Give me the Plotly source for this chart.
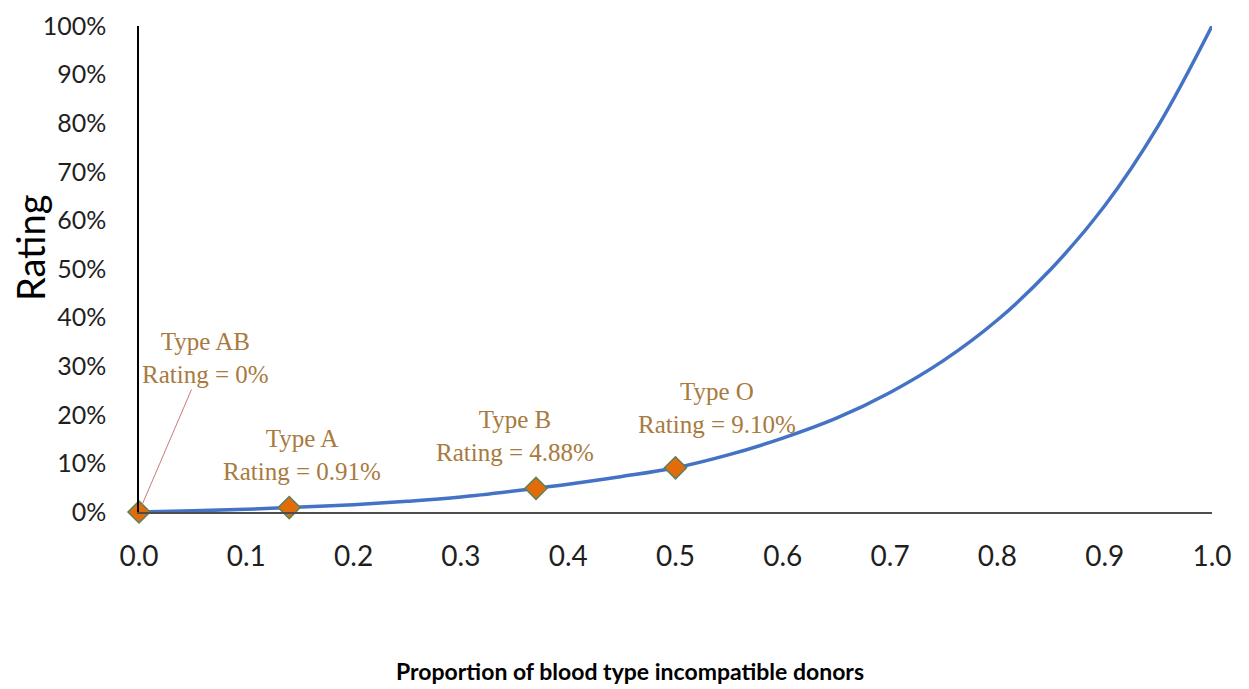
import plotly.graph_objects as go

# curve (x = proportion, y = rating in %)
curve_x = [0, 0.05, 0.1, 0.14, 0.2, 0.25, 0.3, 0.37, 0.4, 0.45, 0.5,
           0.55, 0.6, 0.65, 0.7, 0.75, 0.8, 0.85, 0.9, 0.95, 1.0]
curve_y = [0, 0.25, 0.55, 0.91, 1.5, 2.2, 3.1, 4.88, 5.7, 7.3, 9.1,
           11.8, 15.2, 19.3, 24.6, 31.2, 39.5, 50, 63, 79.5, 100]

# blood types
types = ["Type AB", "Type A", "Type B", "Type O"]
type_x = [0, 0.14, 0.37, 0.5]
type_y = [0, 0.91, 4.88, 9.10]
type_labels = ["0%", "0.91%", "4.88%", "9.10%"]

y_ticks = list(range(0, 101, 10))
y_ticktext = [f"{v}%" for v in y_ticks]
x_ticks = [i / 10 for i in range(11)]

fig = go.Figure()

fig.add_trace(go.Scatter(
    x=curve_x, y=curve_y,
    mode="lines",
    line=dict(color="#4472C4", width=3.5, shape="spline", smoothing=1.0),
    showlegend=False,
))

fig.add_trace(go.Scatter(
    x=type_x, y=type_y,
    mode="markers",
    marker=dict(symbol="diamond", size=17, color="#E36C0A",
                line=dict(color="#5B8060", width=1.5)),
    cliponaxis=False,
    showlegend=False,
))

label_font = dict(family="Liberation Serif", size=25, color="#A87A3E")

# text positions for the labels (offset from the markers)
label_pos = {
    "Type A": (0.152, 11.8),
    "Type B": (0.350, 15.7),
    "Type O": (0.539, 21.4),
}

annotations = []
for t, xv, yv, lab in zip(types, type_x, type_y, type_labels):
    text = f"{t}<br>Rating = {lab}"
    if t == "Type AB":
        annotations.append(dict(
            x=xv, y=yv, xref="x", yref="y",
            text=text, showarrow=True, arrowhead=0,
            arrowcolor="#C97A7C", arrowwidth=1, standoff=8,
            ax=66, ay=-154, font=label_font,
        ))
    else:
        px_, py_ = label_pos[t]
        annotations.append(dict(
            x=px_, y=py_, xref="x", yref="y",
            text=text, showarrow=False, font=label_font,
        ))

annotations.append(dict(
    x=-0.1016, y=0.545, xref="paper", yref="paper",
    xanchor="center", yanchor="middle",
    text="Rating", textangle=-90, showarrow=False,
    font=dict(family="Lato", size=38, color="black"),
))
annotations.append(dict(
    x=0.4576, y=-0.3265, xref="paper", yref="paper",
    xanchor="center", yanchor="middle",
    text="<b>Proportion of blood type incompatible donors</b>",
    showarrow=False,
    font=dict(family="Lato", size=23, color="black"),
))

# page body adds an 8px offset, margins compensate for it
fig.update_layout(
    width=1249, height=689,
    margin=dict(l=131, r=45, t=18, b=185),
    plot_bgcolor="white",
    paper_bgcolor="white",
    annotations=annotations,
    xaxis=dict(
        range=[0, 1], tickvals=x_ticks, tickformat=".1f",
        showgrid=False, zeroline=False, automargin=False,
        showline=True, linecolor="#4D4D4D", linewidth=2,
        ticks="", ticklabelstandoff=18,
        tickfont=dict(family="Lato", size=28, color="#1F1F1F"),
    ),
    yaxis=dict(
        range=[0, 100], tickvals=y_ticks, ticktext=y_ticktext,
        showgrid=False, zeroline=False, automargin=False,
        showline=True, linecolor="black", linewidth=1.5,
        ticks="", ticklabelstandoff=26, ticklabeloverflow="allow",
        tickfont=dict(family="Lato", size=25, color="#1F1F1F"),
    ),
)

fig.write_html("out.html")
